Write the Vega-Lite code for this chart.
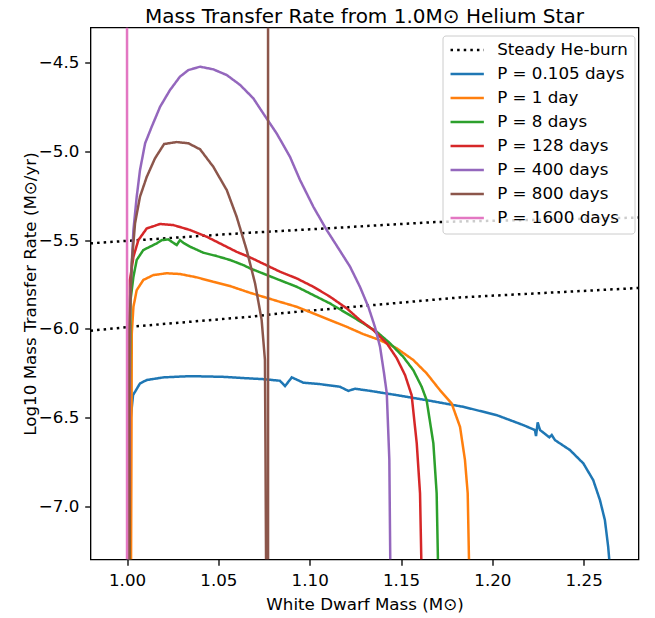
{
  "$schema": "https://vega.github.io/schema/vega-lite/v6.json",
  "width": 548,
  "height": 532,
  "autosize": {"type": "none"},
  "padding": {"left": 90.5, "top": 27.5, "right": 16.5, "bottom": 58.5},
  "background": "white",
  "title": {
    "text": "Mass Transfer Rate from 1.0M⊙ Helium Star",
    "font": "DejaVu Sans",
    "fontSize": 20,
    "fontWeight": "normal",
    "color": "black",
    "baseline": "alphabetic",
    "frame": "group",
    "offset": 4.5,
    "dy": 20,
    "anchor": "middle"
  },
  "config": {
    "font": "DejaVu Sans",
    "view": {"stroke": "black", "strokeWidth": 1.33},
    "axis": {
      "labelFont": "DejaVu Sans",
      "titleFont": "DejaVu Sans",
      "labelFontSize": 16.7,
      "titleFontSize": 16.7,
      "titleFontWeight": "normal",
      "labelColor": "black",
      "titleColor": "black",
      "tickColor": "black",
      "tickWidth": 1.33,
      "tickSize": 5.8,
      "labelPadding": 5.8,
      "domain": false,
      "grid": false
    }
  },
  "data": {
    "values": [
      {"series": "Steady He-burn", "seg": "u", "mass": 0.98, "rate": -5.517},
      {"series": "Steady He-burn", "seg": "u", "mass": 1.0673, "rate": -5.457},
      {"series": "Steady He-burn", "seg": "u", "mass": 1.0837, "rate": -5.448},
      {"series": "Steady He-burn", "seg": "u", "mass": 1.1686, "rate": -5.397},
      {"series": "Steady He-burn", "seg": "u", "mass": 1.28, "rate": -5.372},
      {"series": "Steady He-burn", "seg": "l", "mass": 0.98, "rate": -6.010},
      {"series": "Steady He-burn", "seg": "l", "mass": 1.0016, "rate": -5.988},
      {"series": "Steady He-burn", "seg": "l", "mass": 1.0673, "rate": -5.931},
      {"series": "Steady He-burn", "seg": "l", "mass": 1.0837, "rate": -5.912},
      {"series": "Steady He-burn", "seg": "l", "mass": 1.1823, "rate": -5.822},
      {"series": "Steady He-burn", "seg": "l", "mass": 1.28, "rate": -5.769},

      {"series": "P = 0.105 days", "seg": "a", "mass": 1.0010, "rate": -7.3},
      {"series": "P = 0.105 days", "seg": "a", "mass": 1.0014, "rate": -6.965},
      {"series": "P = 0.105 days", "seg": "a", "mass": 1.0019, "rate": -6.514},
      {"series": "P = 0.105 days", "seg": "a", "mass": 1.0033, "rate": -6.373},
      {"series": "P = 0.105 days", "seg": "a", "mass": 1.0071, "rate": -6.307},
      {"series": "P = 0.105 days", "seg": "a", "mass": 1.0108, "rate": -6.288},
      {"series": "P = 0.105 days", "seg": "a", "mass": 1.0199, "rate": -6.273},
      {"series": "P = 0.105 days", "seg": "a", "mass": 1.0345, "rate": -6.266},
      {"series": "P = 0.105 days", "seg": "a", "mass": 1.0527, "rate": -6.270},
      {"series": "P = 0.105 days", "seg": "a", "mass": 1.0673, "rate": -6.279},
      {"series": "P = 0.105 days", "seg": "a", "mass": 1.0746, "rate": -6.283},
      {"series": "P = 0.105 days", "seg": "a", "mass": 1.0837, "rate": -6.292},
      {"series": "P = 0.105 days", "seg": "a", "mass": 1.0865, "rate": -6.322},
      {"series": "P = 0.105 days", "seg": "a", "mass": 1.0902, "rate": -6.273},
      {"series": "P = 0.105 days", "seg": "a", "mass": 1.0965, "rate": -6.303},
      {"series": "P = 0.105 days", "seg": "a", "mass": 1.1056, "rate": -6.311},
      {"series": "P = 0.105 days", "seg": "a", "mass": 1.1166, "rate": -6.326},
      {"series": "P = 0.105 days", "seg": "a", "mass": 1.1211, "rate": -6.349},
      {"series": "P = 0.105 days", "seg": "a", "mass": 1.1248, "rate": -6.337},
      {"series": "P = 0.105 days", "seg": "a", "mass": 1.1330, "rate": -6.349},
      {"series": "P = 0.105 days", "seg": "a", "mass": 1.1476, "rate": -6.373},
      {"series": "P = 0.105 days", "seg": "a", "mass": 1.1659, "rate": -6.405},
      {"series": "P = 0.105 days", "seg": "a", "mass": 1.1841, "rate": -6.439},
      {"series": "P = 0.105 days", "seg": "a", "mass": 1.2024, "rate": -6.486},
      {"series": "P = 0.105 days", "seg": "a", "mass": 1.2169, "rate": -6.542},
      {"series": "P = 0.105 days", "seg": "a", "mass": 1.2233, "rate": -6.570},
      {"series": "P = 0.105 days", "seg": "a", "mass": 1.2239, "rate": -6.604},
      {"series": "P = 0.105 days", "seg": "a", "mass": 1.2248, "rate": -6.527},
      {"series": "P = 0.105 days", "seg": "a", "mass": 1.2261, "rate": -6.570},
      {"series": "P = 0.105 days", "seg": "a", "mass": 1.2312, "rate": -6.611},
      {"series": "P = 0.105 days", "seg": "a", "mass": 1.2325, "rate": -6.598},
      {"series": "P = 0.105 days", "seg": "a", "mass": 1.2343, "rate": -6.627},
      {"series": "P = 0.105 days", "seg": "a", "mass": 1.2425, "rate": -6.683},
      {"series": "P = 0.105 days", "seg": "a", "mass": 1.2498, "rate": -6.758},
      {"series": "P = 0.105 days", "seg": "a", "mass": 1.2552, "rate": -6.852},
      {"series": "P = 0.105 days", "seg": "a", "mass": 1.2589, "rate": -6.965},
      {"series": "P = 0.105 days", "seg": "a", "mass": 1.2616, "rate": -7.078},
      {"series": "P = 0.105 days", "seg": "a", "mass": 1.2634, "rate": -7.228},
      {"series": "P = 0.105 days", "seg": "a", "mass": 1.2640, "rate": -7.3},

      {"series": "P = 1 day", "seg": "a", "mass": 1.0022, "rate": -7.3},
      {"series": "P = 1 day", "seg": "a", "mass": 1.0025, "rate": -6.401},
      {"series": "P = 1 day", "seg": "a", "mass": 1.0026, "rate": -6.025},
      {"series": "P = 1 day", "seg": "a", "mass": 1.0035, "rate": -5.875},
      {"series": "P = 1 day", "seg": "a", "mass": 1.0053, "rate": -5.781},
      {"series": "P = 1 day", "seg": "a", "mass": 1.0089, "rate": -5.724},
      {"series": "P = 1 day", "seg": "a", "mass": 1.0144, "rate": -5.696},
      {"series": "P = 1 day", "seg": "a", "mass": 1.0217, "rate": -5.686},
      {"series": "P = 1 day", "seg": "a", "mass": 1.0290, "rate": -5.690},
      {"series": "P = 1 day", "seg": "a", "mass": 1.0382, "rate": -5.709},
      {"series": "P = 1 day", "seg": "a", "mass": 1.0472, "rate": -5.734},
      {"series": "P = 1 day", "seg": "a", "mass": 1.0564, "rate": -5.758},
      {"series": "P = 1 day", "seg": "a", "mass": 1.0673, "rate": -5.796},
      {"series": "P = 1 day", "seg": "a", "mass": 1.0837, "rate": -5.847},
      {"series": "P = 1 day", "seg": "a", "mass": 1.0929, "rate": -5.875},
      {"series": "P = 1 day", "seg": "a", "mass": 1.1020, "rate": -5.912},
      {"series": "P = 1 day", "seg": "a", "mass": 1.1111, "rate": -5.950},
      {"series": "P = 1 day", "seg": "a", "mass": 1.1203, "rate": -5.988},
      {"series": "P = 1 day", "seg": "a", "mass": 1.1293, "rate": -6.029},
      {"series": "P = 1 day", "seg": "a", "mass": 1.1385, "rate": -6.063},
      {"series": "P = 1 day", "seg": "a", "mass": 1.1476, "rate": -6.109},
      {"series": "P = 1 day", "seg": "a", "mass": 1.1567, "rate": -6.175},
      {"series": "P = 1 day", "seg": "a", "mass": 1.1640, "rate": -6.250},
      {"series": "P = 1 day", "seg": "a", "mass": 1.1713, "rate": -6.345},
      {"series": "P = 1 day", "seg": "a", "mass": 1.1777, "rate": -6.420},
      {"series": "P = 1 day", "seg": "a", "mass": 1.1823, "rate": -6.552},
      {"series": "P = 1 day", "seg": "a", "mass": 1.1850, "rate": -6.739},
      {"series": "P = 1 day", "seg": "a", "mass": 1.1865, "rate": -6.927},
      {"series": "P = 1 day", "seg": "a", "mass": 1.1872, "rate": -7.3},

      {"series": "P = 8 days", "seg": "a", "mass": 1.0014, "rate": -7.3},
      {"series": "P = 8 days", "seg": "a", "mass": 1.0015, "rate": -6.401},
      {"series": "P = 8 days", "seg": "a", "mass": 1.0019, "rate": -5.837},
      {"series": "P = 8 days", "seg": "a", "mass": 1.0035, "rate": -5.706},
      {"series": "P = 8 days", "seg": "a", "mass": 1.0053, "rate": -5.611},
      {"series": "P = 8 days", "seg": "a", "mass": 1.0089, "rate": -5.555},
      {"series": "P = 8 days", "seg": "a", "mass": 1.0126, "rate": -5.536},
      {"series": "P = 8 days", "seg": "a", "mass": 1.0163, "rate": -5.517},
      {"series": "P = 8 days", "seg": "a", "mass": 1.0190, "rate": -5.499},
      {"series": "P = 8 days", "seg": "a", "mass": 1.0226, "rate": -5.495},
      {"series": "P = 8 days", "seg": "a", "mass": 1.0272, "rate": -5.527},
      {"series": "P = 8 days", "seg": "a", "mass": 1.0290, "rate": -5.499},
      {"series": "P = 8 days", "seg": "a", "mass": 1.0308, "rate": -5.514},
      {"series": "P = 8 days", "seg": "a", "mass": 1.0345, "rate": -5.536},
      {"series": "P = 8 days", "seg": "a", "mass": 1.0418, "rate": -5.570},
      {"series": "P = 8 days", "seg": "a", "mass": 1.0491, "rate": -5.589},
      {"series": "P = 8 days", "seg": "a", "mass": 1.0564, "rate": -5.611},
      {"series": "P = 8 days", "seg": "a", "mass": 1.0637, "rate": -5.640},
      {"series": "P = 8 days", "seg": "a", "mass": 1.0673, "rate": -5.658},
      {"series": "P = 8 days", "seg": "a", "mass": 1.0837, "rate": -5.725},
      {"series": "P = 8 days", "seg": "a", "mass": 1.0929, "rate": -5.762},
      {"series": "P = 8 days", "seg": "a", "mass": 1.1020, "rate": -5.809},
      {"series": "P = 8 days", "seg": "a", "mass": 1.1111, "rate": -5.856},
      {"series": "P = 8 days", "seg": "a", "mass": 1.1203, "rate": -5.912},
      {"series": "P = 8 days", "seg": "a", "mass": 1.1293, "rate": -5.968},
      {"series": "P = 8 days", "seg": "a", "mass": 1.1367, "rate": -6.016},
      {"series": "P = 8 days", "seg": "a", "mass": 1.1440, "rate": -6.081},
      {"series": "P = 8 days", "seg": "a", "mass": 1.1512, "rate": -6.157},
      {"series": "P = 8 days", "seg": "a", "mass": 1.1567, "rate": -6.232},
      {"series": "P = 8 days", "seg": "a", "mass": 1.1613, "rate": -6.326},
      {"series": "P = 8 days", "seg": "a", "mass": 1.1640, "rate": -6.401},
      {"series": "P = 8 days", "seg": "a", "mass": 1.1677, "rate": -6.645},
      {"series": "P = 8 days", "seg": "a", "mass": 1.1695, "rate": -6.927},
      {"series": "P = 8 days", "seg": "a", "mass": 1.1702, "rate": -7.3},

      {"series": "P = 128 days", "seg": "a", "mass": 1.0012, "rate": -7.3},
      {"series": "P = 128 days", "seg": "a", "mass": 1.0013, "rate": -6.401},
      {"series": "P = 128 days", "seg": "a", "mass": 1.0016, "rate": -5.724},
      {"series": "P = 128 days", "seg": "a", "mass": 1.0035, "rate": -5.593},
      {"series": "P = 128 days", "seg": "a", "mass": 1.0062, "rate": -5.499},
      {"series": "P = 128 days", "seg": "a", "mass": 1.0108, "rate": -5.433},
      {"series": "P = 128 days", "seg": "a", "mass": 1.0181, "rate": -5.408},
      {"series": "P = 128 days", "seg": "a", "mass": 1.0253, "rate": -5.414},
      {"series": "P = 128 days", "seg": "a", "mass": 1.0345, "rate": -5.442},
      {"series": "P = 128 days", "seg": "a", "mass": 1.0436, "rate": -5.480},
      {"series": "P = 128 days", "seg": "a", "mass": 1.0527, "rate": -5.527},
      {"series": "P = 128 days", "seg": "a", "mass": 1.0600, "rate": -5.565},
      {"series": "P = 128 days", "seg": "a", "mass": 1.0673, "rate": -5.596},
      {"series": "P = 128 days", "seg": "a", "mass": 1.0837, "rate": -5.677},
      {"series": "P = 128 days", "seg": "a", "mass": 1.0929, "rate": -5.715},
      {"series": "P = 128 days", "seg": "a", "mass": 1.1020, "rate": -5.762},
      {"series": "P = 128 days", "seg": "a", "mass": 1.1111, "rate": -5.818},
      {"series": "P = 128 days", "seg": "a", "mass": 1.1203, "rate": -5.884},
      {"series": "P = 128 days", "seg": "a", "mass": 1.1275, "rate": -5.950},
      {"series": "P = 128 days", "seg": "a", "mass": 1.1348, "rate": -6.006},
      {"series": "P = 128 days", "seg": "a", "mass": 1.1422, "rate": -6.081},
      {"series": "P = 128 days", "seg": "a", "mass": 1.1476, "rate": -6.164},
      {"series": "P = 128 days", "seg": "a", "mass": 1.1522, "rate": -6.260},
      {"series": "P = 128 days", "seg": "a", "mass": 1.1558, "rate": -6.373},
      {"series": "P = 128 days", "seg": "a", "mass": 1.1586, "rate": -6.645},
      {"series": "P = 128 days", "seg": "a", "mass": 1.1604, "rate": -6.927},
      {"series": "P = 128 days", "seg": "a", "mass": 1.1611, "rate": -7.3},

      {"series": "P = 400 days", "seg": "a", "mass": 1.0008, "rate": -7.3},
      {"series": "P = 400 days", "seg": "a", "mass": 1.0014, "rate": -6.401},
      {"series": "P = 400 days", "seg": "a", "mass": 1.0016, "rate": -5.837},
      {"series": "P = 400 days", "seg": "a", "mass": 1.0025, "rate": -5.649},
      {"series": "P = 400 days", "seg": "a", "mass": 1.0035, "rate": -5.442},
      {"series": "P = 400 days", "seg": "a", "mass": 1.0053, "rate": -5.254},
      {"series": "P = 400 days", "seg": "a", "mass": 1.0071, "rate": -5.104},
      {"series": "P = 400 days", "seg": "a", "mass": 1.0099, "rate": -4.953},
      {"series": "P = 400 days", "seg": "a", "mass": 1.0135, "rate": -4.860},
      {"series": "P = 400 days", "seg": "a", "mass": 1.0181, "rate": -4.747},
      {"series": "P = 400 days", "seg": "a", "mass": 1.0235, "rate": -4.653},
      {"series": "P = 400 days", "seg": "a", "mass": 1.0290, "rate": -4.577},
      {"series": "P = 400 days", "seg": "a", "mass": 1.0336, "rate": -4.540},
      {"series": "P = 400 days", "seg": "a", "mass": 1.0400, "rate": -4.521},
      {"series": "P = 400 days", "seg": "a", "mass": 1.0472, "rate": -4.536},
      {"series": "P = 400 days", "seg": "a", "mass": 1.0546, "rate": -4.568},
      {"series": "P = 400 days", "seg": "a", "mass": 1.0619, "rate": -4.624},
      {"series": "P = 400 days", "seg": "a", "mass": 1.0691, "rate": -4.699},
      {"series": "P = 400 days", "seg": "a", "mass": 1.0755, "rate": -4.799},
      {"series": "P = 400 days", "seg": "a", "mass": 1.0819, "rate": -4.897},
      {"series": "P = 400 days", "seg": "a", "mass": 1.0892, "rate": -5.029},
      {"series": "P = 400 days", "seg": "a", "mass": 1.0947, "rate": -5.160},
      {"series": "P = 400 days", "seg": "a", "mass": 1.1020, "rate": -5.311},
      {"series": "P = 400 days", "seg": "a", "mass": 1.1093, "rate": -5.442},
      {"series": "P = 400 days", "seg": "a", "mass": 1.1157, "rate": -5.545},
      {"series": "P = 400 days", "seg": "a", "mass": 1.1221, "rate": -5.649},
      {"series": "P = 400 days", "seg": "a", "mass": 1.1275, "rate": -5.762},
      {"series": "P = 400 days", "seg": "a", "mass": 1.1321, "rate": -5.875},
      {"series": "P = 400 days", "seg": "a", "mass": 1.1357, "rate": -5.988},
      {"series": "P = 400 days", "seg": "a", "mass": 1.1385, "rate": -6.100},
      {"series": "P = 400 days", "seg": "a", "mass": 1.1407, "rate": -6.250},
      {"series": "P = 400 days", "seg": "a", "mass": 1.1422, "rate": -6.363},
      {"series": "P = 400 days", "seg": "a", "mass": 1.1436, "rate": -6.739},
      {"series": "P = 400 days", "seg": "a", "mass": 1.1441, "rate": -7.3},

      {"series": "P = 800 days", "seg": "a", "mass": 1.0010, "rate": -7.3},
      {"series": "P = 800 days", "seg": "a", "mass": 1.0012, "rate": -6.401},
      {"series": "P = 800 days", "seg": "a", "mass": 1.0013, "rate": -6.006},
      {"series": "P = 800 days", "seg": "a", "mass": 1.0026, "rate": -5.628},
      {"series": "P = 800 days", "seg": "a", "mass": 1.0044, "rate": -5.403},
      {"series": "P = 800 days", "seg": "a", "mass": 1.0071, "rate": -5.254},
      {"series": "P = 800 days", "seg": "a", "mass": 1.0108, "rate": -5.142},
      {"series": "P = 800 days", "seg": "a", "mass": 1.0153, "rate": -5.038},
      {"series": "P = 800 days", "seg": "a", "mass": 1.0203, "rate": -4.957},
      {"series": "P = 800 days", "seg": "a", "mass": 1.0272, "rate": -4.946},
      {"series": "P = 800 days", "seg": "a", "mass": 1.0336, "rate": -4.953},
      {"series": "P = 800 days", "seg": "a", "mass": 1.0400, "rate": -4.987},
      {"series": "P = 800 days", "seg": "a", "mass": 1.0472, "rate": -5.085},
      {"series": "P = 800 days", "seg": "a", "mass": 1.0546, "rate": -5.217},
      {"series": "P = 800 days", "seg": "a", "mass": 1.0600, "rate": -5.367},
      {"series": "P = 800 days", "seg": "a", "mass": 1.0655, "rate": -5.555},
      {"series": "P = 800 days", "seg": "a", "mass": 1.0701, "rate": -5.743},
      {"series": "P = 800 days", "seg": "a", "mass": 1.0737, "rate": -5.950},
      {"series": "P = 800 days", "seg": "a", "mass": 1.0755, "rate": -6.175},
      {"series": "P = 800 days", "seg": "a", "mass": 1.0758, "rate": -6.683},
      {"series": "P = 800 days", "seg": "a", "mass": 1.0761, "rate": -7.3},
      {"series": "P = 800 days", "seg": "b", "mass": 1.0772, "rate": -7.3},
      {"series": "P = 800 days", "seg": "b", "mass": 1.0772, "rate": -4.3},

      {"series": "P = 1600 days", "seg": "a", "mass": 1.0000, "rate": -7.3},
      {"series": "P = 1600 days", "seg": "a", "mass": 1.0000, "rate": -4.3}
    ]
  },
  "mark": {"type": "line", "clip": true, "strokeWidth": 2.5},
  "encoding": {
    "x": {
      "field": "mass",
      "type": "quantitative",
      "scale": {"domain": [0.98, 1.28], "nice": false, "zero": false},
      "axis": {"values": [1.0, 1.05, 1.1, 1.15, 1.2, 1.25], "format": ".2f", "title": "White Dwarf Mass (M⊙)", "titlePadding": 7, "labelPadding": 7}
    },
    "y": {
      "field": "rate",
      "type": "quantitative",
      "scale": {"domain": [-7.3, -4.3], "nice": false, "zero": false},
      "axis": {"values": [-7.0, -6.5, -6.0, -5.5, -5.0, -4.5], "format": ".1f", "title": "Log10 Mass Transfer Rate (M⊙/yr)", "titlePadding": -1}
    },
    "detail": {"field": "seg"},
    "color": {
      "field": "series",
      "type": "nominal",
      "scale": {
        "domain": ["Steady He-burn", "P = 0.105 days", "P = 1 day", "P = 8 days", "P = 128 days", "P = 400 days", "P = 800 days", "P = 1600 days"],
        "range": ["#000000", "#1f77b4", "#ff7f0e", "#2ca02c", "#d62728", "#9467bd", "#8c564b", "#e377c2"]
      },
      "legend": {
        "title": null,
        "orient": "none",
        "legendX": 352,
        "legendY": 8,
        "symbolType": "stroke",
        "symbolSize": 1111,
        "symbolStrokeWidth": 2.5,
        "labelFont": "DejaVu Sans",
        "labelFontSize": 16.7,
        "labelColor": "black",
        "labelOffset": 12,
        "clipHeight": 15.4,
        "rowPadding": 6,
        "padding": 6.7,
        "strokeColor": "#cccccc",
        "fillColor": "rgba(255,255,255,0.8)",
        "cornerRadius": 3
      }
    },
    "strokeDash": {
      "field": "series",
      "type": "nominal",
      "scale": {
        "domain": ["Steady He-burn", "P = 0.105 days", "P = 1 day", "P = 8 days", "P = 128 days", "P = 400 days", "P = 800 days", "P = 1600 days"],
        "range": [[2.5, 4.1], [1, 0], [1, 0], [1, 0], [1, 0], [1, 0], [1, 0], [1, 0]]
      }
    }
  }
}
